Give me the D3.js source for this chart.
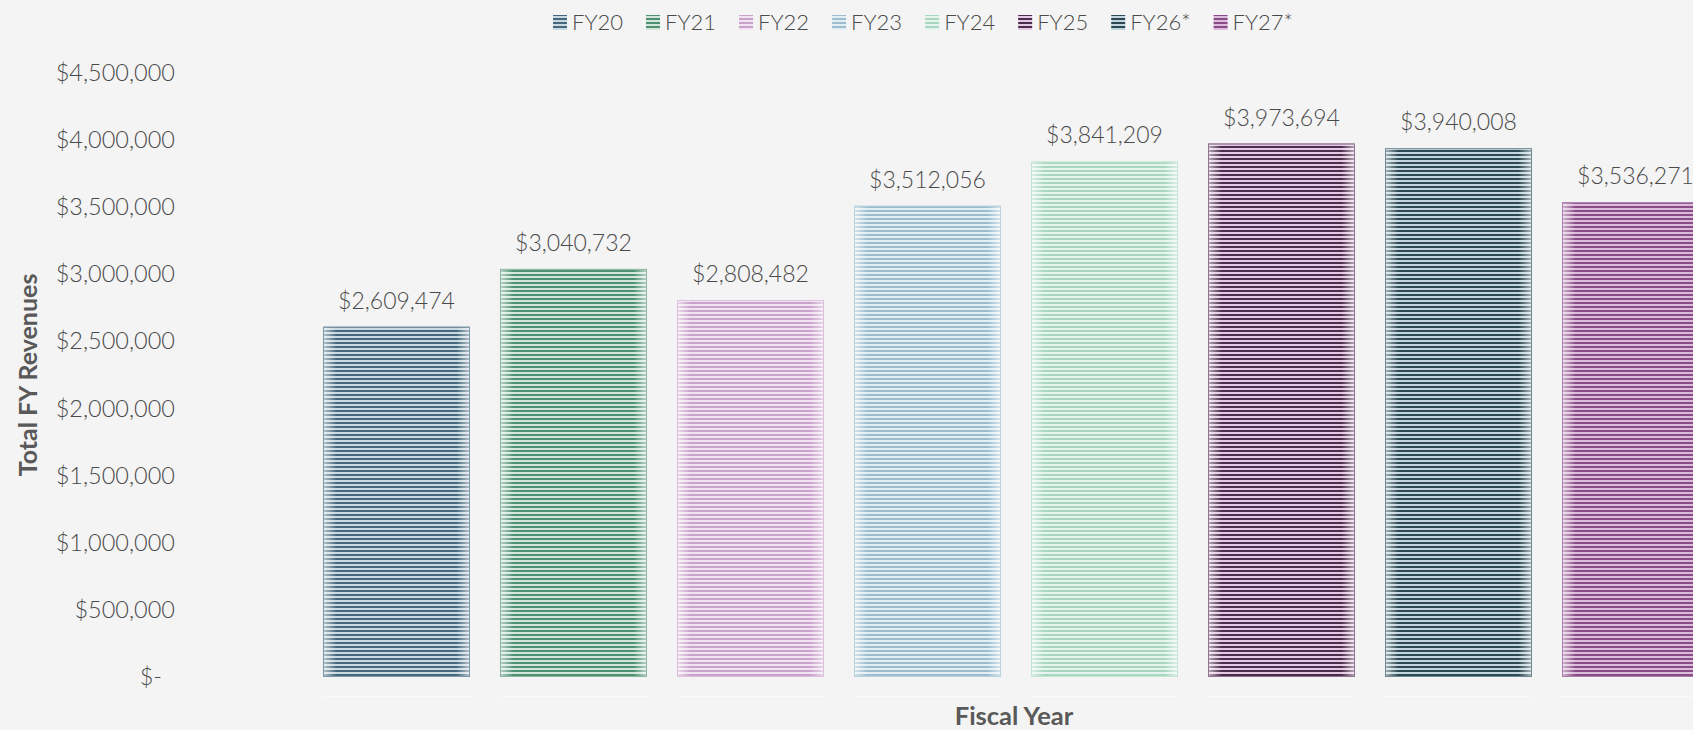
<!DOCTYPE html>
<html>
<head>
<meta charset="utf-8">
<script src="https://cdn.jsdelivr.net/npm/d3@7"></script>
<style>
  html, body { margin: 0; padding: 0; background: #f4f4f4; overflow: hidden; }
  text { font-family: Lato, 'DejaVu Sans', sans-serif; fill: #595959; }
</style>
</head>
<body>
<script>
var width = 1693;
var height = 730;

// data
var categories = ['FY20', 'FY21', 'FY22', 'FY23', 'FY24', 'FY25', 'FY26*', 'FY27*'];
var revenues = [2609474, 3040732, 2808482, 3512056, 3841209, 3973694, 3940008, 3536271];
var yTicks = [0, 500000, 1000000, 1500000, 2000000, 2500000, 3000000, 3500000, 4000000, 4500000];
var darkColors = ['#44687e', '#4e9171', '#c9a2cb', '#9bbdcf', '#a8d7bf', '#4e2c4f', '#2c4954', '#8a4c89'];
var lightColors = ['#cad8e0', '#d2e6dc', '#f1e3f2', '#e3eef3', '#e7f4ed', '#e2cbe2', '#c3d6dd', '#dcbcdb'];

var svg = d3.select('body').append('svg')
    .attr('width', width)
    .attr('height', height)

var defs = svg.append('defs')

// striped fills, one per fiscal year
categories.forEach((c, i) => {
    var p = defs.append('pattern')
        .attr('id', 'stripe' + i)
        .attr('patternUnits', 'userSpaceOnUse')
        .attr('width', 8).attr('height', 4)
    p.append('rect').attr('width', 8).attr('height', 4).attr('fill', lightColors[i])
    p.append('rect').attr('y', 2).attr('width', 8).attr('height', 2).attr('fill', darkColors[i])
})

// soft light glow on the bar sides
var glow = defs.append('linearGradient').attr('id', 'glow')
    .attr('x1', 0).attr('x2', 1).attr('y1', 0).attr('y2', 0)
glow.append('stop').attr('offset', 0).attr('stop-color', '#fff').attr('stop-opacity', 0.6)
glow.append('stop').attr('offset', 0.09).attr('stop-color', '#fff').attr('stop-opacity', 0)
glow.append('stop').attr('offset', 0.91).attr('stop-color', '#fff').attr('stop-opacity', 0)
glow.append('stop').attr('offset', 1).attr('stop-color', '#fff').attr('stop-opacity', 0.6)

var x = d3.scaleBand()
    .domain(categories)
    .range([308, 1724])
    .paddingInner(0.1695)
    .paddingOuter(0.0847)

var y = d3.scaleLinear()
    .domain([0, 4500000])
    .range([677, 73])

var money = d3.format('$,')
var textColor = '#4a4a4a'

// y axis labels (no line, no ticks)
var yAxis = svg.append('g')
    .attr('transform', 'translate(175,0)')
    .call(d3.axisLeft(y).tickValues(yTicks).tickSize(0).tickPadding(0)
        .tickFormat(d => d === 0 ? '$-' : money(d)))
yAxis.select('.domain').remove()
yAxis.selectAll('text')
    .attr('font-size', '23.5px')
    .attr('font-family', null)
    .attr('font-weight', 300)
    .attr('dx', d => d === 0 ? -13 : 0)
    .style('fill', textColor)

// faint category rules under the plot
svg.append('g').selectAll('line')
    .data(categories).enter()
    .append('line')
        .attr('x1', d => x(d)).attr('x2', d => x(d) + x.bandwidth())
        .attr('y1', 696.5).attr('y2', 696.5)
        .attr('stroke', '#fafafa')

var bars = svg.append('g').selectAll('g')
    .data(categories).enter()
    .append('g')

bars.append('rect')
    .attr('x', d => x(d))
    .attr('y', (d, i) => y(revenues[i]))
    .attr('width', x.bandwidth())
    .attr('height', (d, i) => y(0) - y(revenues[i]))
    .attr('fill', (d, i) => 'url(#stripe' + i + ')')

bars.append('rect')
    .attr('x', d => x(d) + 0.5)
    .attr('y', (d, i) => y(revenues[i]) + 0.5)
    .attr('width', x.bandwidth() - 1)
    .attr('height', (d, i) => y(0) - y(revenues[i]) - 1)
    .attr('fill', 'url(#glow)')
    .attr('stroke', (d, i) => d3.interpolateRgb(darkColors[i], lightColors[i])(0.45))
    .attr('stroke-width', 1)

// value labels
bars.append('text')
    .attr('x', d => x(d) + x.bandwidth() / 2)
    .attr('y', (d, i) => y(revenues[i]) - 18)
    .attr('text-anchor', 'middle')
    .attr('font-size', '23px')
    .attr('font-weight', 300)
    .style('fill', textColor)
    .text((d, i) => money(revenues[i]))

// legend
var legend = svg.append('g')
var lx = 553
categories.forEach((c, i) => {
    legend.append('rect')
        .attr('x', lx).attr('y', 15)
        .attr('width', 14).attr('height', 15)
        .attr('fill', 'url(#stripe' + i + ')')
    var t = legend.append('text')
        .attr('x', lx + 19).attr('y', 30)
        .attr('font-size', '22px')
        .attr('font-weight', 300)
        .style('fill', textColor)
        .text(c)
    lx += 19 + t.node().getComputedTextLength() + 23
})

// axis titles
svg.append('text')
    .attr('transform', 'translate(37,375) rotate(-90)')
    .attr('text-anchor', 'middle')
    .attr('font-size', '25px')
    .attr('font-weight', 'bold')
    .text('Total FY Revenues')

svg.append('text')
    .attr('x', 1014).attr('y', 725)
    .attr('text-anchor', 'middle')
    .attr('font-size', '25.5px')
    .attr('font-weight', 'bold')
    .text('Fiscal Year')
</script>
</body>
</html>
